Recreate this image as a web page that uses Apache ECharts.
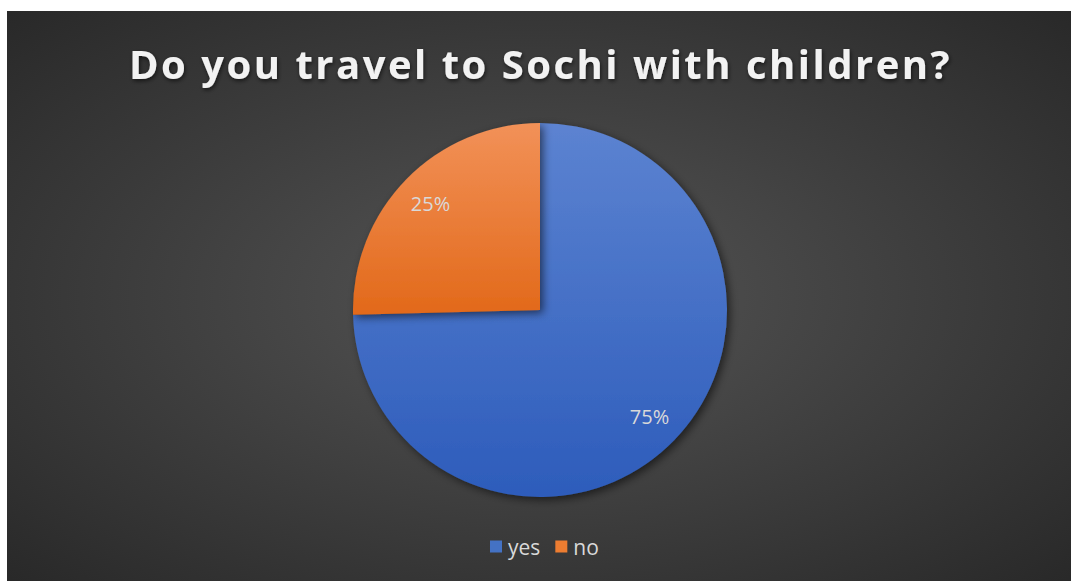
<!DOCTYPE html>
<html>
<head>
<meta charset="utf-8">
<script src="https://cdn.jsdelivr.net/npm/echarts@6/dist/echarts.min.js"></script>
<style>
  html, body { margin: 0; padding: 0; background: #ffffff; width: 1071px; height: 581px; overflow: hidden; }
  #chart { position: absolute; left: 7px; top: 11px; width: 1064px; height: 570px; }
</style>
</head>
<body>
<div id="chart"></div>
<script>
const titleText = 'Do you travel to Sochi with children?';
const categories = ['yes', 'no'];
const values = [74.6, 25.4];
const labels = ['75%', '25%'];
const topColors = ['#5c83d1', '#f29158'];
const bottomColors = ['#2d5cbb', '#e2691a'];
const legendColors = ['#4472c4', '#ed7d31'];

const chart = echarts.init(document.getElementById('chart'), null, { renderer: 'svg' });

const mainData = categories.map((c, i) => ({
  name: c,
  value: values[i],
  itemStyle: {
    color: new echarts.graphic.LinearGradient(0, 0, 0, 1, [
      { offset: 0, color: topColors[i] },
      { offset: 1, color: bottomColors[i] }
    ])
  }
}));
const labelData = categories.map((c, i) => ({
  name: c,
  value: values[i],
  label: { formatter: labels[i] }
}));

chart.setOption({
  animation: false,
  graphic: [{
    type: 'rect',
    left: 0, top: 0, z: -10, silent: true,
    shape: { width: 1064, height: 570 },
    style: {
      fill: new echarts.graphic.RadialGradient(0.5, 0.5, 0.75, [
        { offset: 0, color: '#555555' },
        { offset: 1, color: '#262626' }
      ])
    }
  }],
  title: {
    text: titleText,
    left: 117,
    top: 27,
    textStyle: {
      fontFamily: 'Open Sans',
      fontWeight: 'bold',
      fontSize: 40,
      color: '#f2f2f2',
      textShadowColor: 'rgba(0,0,0,0.6)',
      textShadowBlur: 4,
      textShadowOffsetX: 1,
      textShadowOffsetY: 2
    }
  },
  legend: {
    data: categories.map((c, i) => ({ name: c, itemStyle: { color: legendColors[i] } })),
    left: 478,
    bottom: 19,
    icon: 'rect',
    itemWidth: 12,
    itemHeight: 12,
    itemGap: 15,
    textStyle: { color: '#d9d9d9', fontSize: 21, fontFamily: 'Open Sans', padding: [0, 0, 0, 1] }
  },
  series: [
    {
      type: 'pie',
      center: [533, 299],
      radius: [0, 187],
      startAngle: 90,
      clockwise: true,
      silent: true,
      label: { show: false },
      labelLine: { show: false },
      itemStyle: {
        shadowColor: 'rgba(0,0,0,0.55)',
        shadowBlur: 8,
        shadowOffsetX: 3,
        shadowOffsetY: 3
      },
      data: mainData
    },
    {
      type: 'pie',
      center: [533, 299],
      radius: [113, 187],
      startAngle: 90,
      clockwise: true,
      silent: true,
      itemStyle: { color: 'rgba(0,0,0,0)' },
      label: {
        show: true,
        position: 'inside',
        color: '#d9d9d9',
        fontSize: 20,
        fontFamily: 'Open Sans'
      },
      labelLine: { show: false },
      data: labelData
    }
  ]
});

// widen the title's letter spacing as in the reference
document.querySelectorAll('#chart svg text').forEach(t => {
  if (t.textContent === titleText) {
    t.style.letterSpacing = '2.5px';
  }
});
</script>
</body>
</html>
